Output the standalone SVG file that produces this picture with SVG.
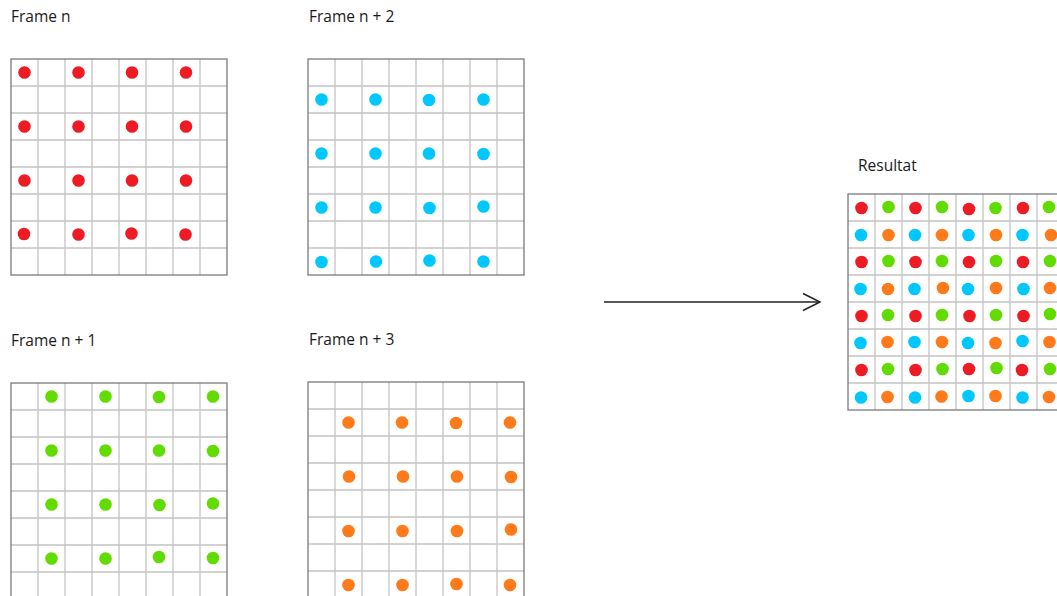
<svg xmlns="http://www.w3.org/2000/svg" xmlns:xlink="http://www.w3.org/1999/xlink" width="1057" height="596" viewBox="0 0 1057 596">
<style>
.lbl{font-family:"Open Sans","Liberation Sans",sans-serif;font-size:15.5px;fill:#1a1a1a}
.gl{fill:none;stroke:#c4c4c4;stroke-width:1.3}
.gb{fill:none;stroke:#7a7a7a;stroke-width:1.3}
.r{fill:#ed1c24}.g{fill:#62dc00}.b{fill:#00c8ff}.o{fill:#ff7a1a}
.arr{fill:none;stroke:#222;stroke-width:1.5}
</style>
<defs>
<g id="grid">
<rect width="216" height="216" fill="#fff"/>
<path class="gl" d="M27 0V216M54 0V216M81 0V216M108 0V216M135 0V216M162 0V216M189 0V216M0 27H216M0 54H216M0 81H216M0 108H216M0 135H216M0 162H216M0 189H216"/>
<rect class="gb" width="216" height="216"/>
</g>
<marker id="ah" viewBox="0 0 20 20" refX="18" refY="10" markerWidth="20" markerHeight="20" markerUnits="userSpaceOnUse" orient="auto">
<path d="M1 1.5L18 10L1 18.5" fill="none" stroke="#222" stroke-width="1.5"/>
</marker>
</defs>

<g id="frame-n">
<text class="lbl" x="11" y="22">Frame n</text>
<use xlink:href="#grid" x="11" y="59"/>
<g class="r">
<circle cx="24.5" cy="72.5" r="6.3"/><circle cx="78.5" cy="72.5" r="6.3"/><circle cx="132" cy="72.5" r="6.3"/><circle cx="186" cy="72.5" r="6.3"/>
<circle cx="24.5" cy="126.5" r="6.3"/><circle cx="78.5" cy="126.5" r="6.3"/><circle cx="132" cy="126.5" r="6.3"/><circle cx="186" cy="126.5" r="6.3"/>
<circle cx="24.5" cy="180.5" r="6.3"/><circle cx="78.5" cy="180.5" r="6.3"/><circle cx="132" cy="180.5" r="6.3"/><circle cx="186" cy="180.5" r="6.3"/>
<circle cx="24" cy="234" r="6.3"/><circle cx="78.5" cy="234.5" r="6.3"/><circle cx="131.5" cy="233.5" r="6.3"/><circle cx="185.5" cy="234.5" r="6.3"/>
</g>
</g>

<g id="frame-n2">
<text class="lbl" x="309" y="22">Frame n + 2</text>
<use xlink:href="#grid" x="308" y="59"/>
<g class="b">
<circle cx="321.5" cy="99.5" r="6.3"/><circle cx="375.5" cy="99.5" r="6.3"/><circle cx="429" cy="100" r="6.3"/><circle cx="483.5" cy="99.5" r="6.3"/>
<circle cx="321.5" cy="153.5" r="6.3"/><circle cx="375.5" cy="153.5" r="6.3"/><circle cx="429" cy="153.5" r="6.3"/><circle cx="483.5" cy="154" r="6.3"/>
<circle cx="321.5" cy="207.5" r="6.3"/><circle cx="375.5" cy="207.5" r="6.3"/><circle cx="429.5" cy="208" r="6.3"/><circle cx="483.5" cy="206.5" r="6.3"/>
<circle cx="321.5" cy="262" r="6.3"/><circle cx="376" cy="261.5" r="6.3"/><circle cx="429.5" cy="260.5" r="6.3"/><circle cx="483.5" cy="261.5" r="6.3"/>
</g>
</g>

<g id="frame-n1">
<text class="lbl" x="11" y="346">Frame n + 1</text>
<use xlink:href="#grid" x="11" y="383"/>
<g class="g">
<circle cx="51.5" cy="396.5" r="6.3"/><circle cx="105.5" cy="396.5" r="6.3"/><circle cx="159" cy="397" r="6.3"/><circle cx="213" cy="396.5" r="6.3"/>
<circle cx="51.5" cy="450.5" r="6.3"/><circle cx="105.5" cy="450.5" r="6.3"/><circle cx="159" cy="450.5" r="6.3"/><circle cx="213" cy="451" r="6.3"/>
<circle cx="51.5" cy="504.5" r="6.3"/><circle cx="105.5" cy="504.5" r="6.3"/><circle cx="159.5" cy="505" r="6.3"/><circle cx="213" cy="503.5" r="6.3"/>
<circle cx="51.5" cy="558.5" r="6.3"/><circle cx="105.5" cy="558.5" r="6.3"/><circle cx="159" cy="557" r="6.3"/><circle cx="213" cy="558" r="6.3"/>
</g>
</g>

<g id="frame-n3">
<text class="lbl" x="309" y="345">Frame n + 3</text>
<use xlink:href="#grid" x="308" y="382"/>
<g class="o">
<circle cx="348.5" cy="422.5" r="6.3"/><circle cx="402" cy="422.5" r="6.3"/><circle cx="456" cy="423" r="6.3"/><circle cx="510" cy="422.5" r="6.3"/>
<circle cx="349" cy="476.5" r="6.3"/><circle cx="403" cy="476.5" r="6.3"/><circle cx="457" cy="476.5" r="6.3"/><circle cx="511" cy="477" r="6.3"/>
<circle cx="348.5" cy="531" r="6.3"/><circle cx="402.5" cy="531" r="6.3"/><circle cx="457" cy="531" r="6.3"/><circle cx="511" cy="529.5" r="6.3"/>
<circle cx="348.5" cy="585" r="6.3"/><circle cx="402.5" cy="585" r="6.3"/><circle cx="456.5" cy="584" r="6.3"/><circle cx="510" cy="585" r="6.3"/>
</g>
</g>

<g id="connectors">
<path class="arr" d="M604 302H820" marker-end="url(#ah)"/>
</g>

<g id="resultat">
<text class="lbl" x="858" y="171">Resultat</text>
<use xlink:href="#grid" x="848" y="194"/>
<g class="r">
<circle cx="861.5" cy="208" r="6.3"/><circle cx="915.5" cy="208" r="6.3"/><circle cx="969" cy="209" r="6.3"/><circle cx="1023" cy="208" r="6.3"/>
<circle cx="861.5" cy="262" r="6.3"/><circle cx="915.5" cy="262" r="6.3"/><circle cx="969" cy="262" r="6.3"/><circle cx="1023" cy="262" r="6.3"/>
<circle cx="861.5" cy="316" r="6.3"/><circle cx="915.5" cy="316" r="6.3"/><circle cx="969.5" cy="316" r="6.3"/><circle cx="1023.5" cy="316" r="6.3"/>
<circle cx="861.5" cy="370" r="6.3"/><circle cx="915.5" cy="370" r="6.3"/><circle cx="969" cy="369" r="6.3"/><circle cx="1022" cy="370" r="6.3"/>
</g>
<g class="g">
<circle cx="888.5" cy="207" r="6.3"/><circle cx="942" cy="207" r="6.3"/><circle cx="995.5" cy="208" r="6.3"/><circle cx="1049" cy="207" r="6.3"/>
<circle cx="888.5" cy="261" r="6.3"/><circle cx="942" cy="261" r="6.3"/><circle cx="996" cy="261" r="6.3"/><circle cx="1050" cy="261" r="6.3"/>
<circle cx="888" cy="315" r="6.3"/><circle cx="942" cy="315" r="6.3"/><circle cx="996" cy="315" r="6.3"/><circle cx="1050" cy="314" r="6.3"/>
<circle cx="888" cy="369" r="6.3"/><circle cx="942.5" cy="369" r="6.3"/><circle cx="996.5" cy="368" r="6.3"/><circle cx="1050" cy="369" r="6.3"/>
</g>
<g class="b">
<circle cx="861" cy="235" r="6.3"/><circle cx="915" cy="235" r="6.3"/><circle cx="968.5" cy="235" r="6.3"/><circle cx="1022.5" cy="235" r="6.3"/>
<circle cx="860.5" cy="289" r="6.3"/><circle cx="914.5" cy="289" r="6.3"/><circle cx="968" cy="289" r="6.3"/><circle cx="1023.5" cy="289" r="6.3"/>
<circle cx="860.5" cy="343" r="6.3"/><circle cx="914.5" cy="342" r="6.3"/><circle cx="968" cy="343" r="6.3"/><circle cx="1022.5" cy="341" r="6.3"/>
<circle cx="861" cy="397.5" r="6.3"/><circle cx="915" cy="397.5" r="6.3"/><circle cx="968.5" cy="396" r="6.3"/><circle cx="1022.5" cy="397.5" r="6.3"/>
</g>
<g class="o">
<circle cx="888.5" cy="235" r="6.3"/><circle cx="942" cy="235" r="6.3"/><circle cx="996" cy="235" r="6.3"/><circle cx="1051" cy="235" r="6.3"/>
<circle cx="888" cy="289" r="6.3"/><circle cx="943" cy="288" r="6.3"/><circle cx="996" cy="288" r="6.3"/><circle cx="1050" cy="288" r="6.3"/>
<circle cx="887.5" cy="342" r="6.3"/><circle cx="942" cy="342" r="6.3"/><circle cx="995.5" cy="343" r="6.3"/><circle cx="1049.5" cy="342" r="6.3"/>
<circle cx="887.5" cy="397" r="6.3"/><circle cx="941.5" cy="396.5" r="6.3"/><circle cx="995.5" cy="396" r="6.3"/><circle cx="1049" cy="397" r="6.3"/>
</g>
</g>
</svg>
